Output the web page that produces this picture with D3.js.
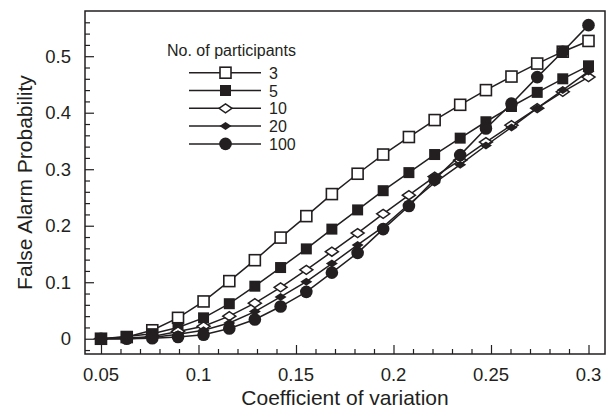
<!DOCTYPE html>
<html><head><meta charset="utf-8">
<script src="https://cdn.jsdelivr.net/npm/d3@7"></script>
<style>body{margin:0;background:#fff}svg{display:block}text{font-family:"Liberation Sans",Arial,sans-serif;fill:#231f20}</style>
</head><body><svg id="c" width="611" height="410"></svg>
<script>
const xValues = [0.05,0.0632,0.0763,0.0895,0.1026,0.1158,0.1289,0.1421,0.1553,0.1684,0.1816,0.1947,0.2079,0.2211,0.2342,0.2474,0.2605,0.2737,0.2868,0.3];
const s3   = [0,0.003,0.015,0.037,0.066,0.102,0.139,0.179,0.217,0.256,0.292,0.326,0.357,0.387,0.414,0.440,0.464,0.487,0.508,0.527];
const s5   = [0,0.004,0.009,0.020,0.037,0.062,0.093,0.126,0.159,0.194,0.228,0.262,0.294,0.326,0.355,0.384,0.411,0.436,0.460,0.483];
const s10  = [0,0.001,0.004,0.013,0.022,0.040,0.063,0.091,0.122,0.154,0.187,0.221,0.254,0.287,0.316,0.348,0.378,0.408,0.437,0.463];
const s20  = [0,0.000,0.002,0.008,0.015,0.028,0.048,0.074,0.101,0.133,0.166,0.198,0.238,0.276,0.308,0.342,0.374,0.408,0.440,0.473];
const s100 = [0,0.000,0.001,0.003,0.007,0.018,0.034,0.057,0.083,0.117,0.152,0.194,0.235,0.282,0.325,0.372,0.416,0.463,0.508,0.555];
const seriesNames = ["3","5","10","20","100"];
const seriesData = [s3,s5,s10,s20,s100];
const markers = ["squareOpen","squareFilled","diamondOpen","diamondFilled","circle"];
const xTicks = [0.05,0.1,0.15,0.2,0.25,0.3];
const xTickLabels = ["0.05","0.1","0.15","0.2","0.25","0.3"];
const yTicks = [0,0.1,0.2,0.3,0.4,0.5];
const yTickLabels = ["0","0.1","0.2","0.3","0.4","0.5"];

const svg = d3.select("#c");
const L=85,R=605,T=11,B=354;
const x = d3.scaleLinear().domain([0.0418,0.30846]).range([L,R]);
const y = d3.scaleLinear().domain([-0.027,0.58]).range([B,T]);
const ink="#231f20";

const xMinor = d3.range(5,31).map(d=>d/100).filter(d=>!xTicks.some(t=>Math.abs(t-d)<1e-9));
const yMinor = d3.range(-1,29).map(d=>d*0.02).filter(d=>!yTicks.some(t=>Math.abs(t-d)<1e-9));

const gx = svg.append("g").attr("transform",`translate(0,${B})`)
  .call(d3.axisTop(x).tickValues(xTicks).tickSize(9).tickFormat(""));
const gxm = svg.append("g").attr("transform",`translate(0,${B})`)
  .call(d3.axisTop(x).tickValues(xMinor).tickSize(5).tickFormat(""));
const gy = svg.append("g").attr("transform",`translate(${L},0)`)
  .call(d3.axisRight(y).tickValues(yTicks).tickSize(9).tickFormat(""));
const gym = svg.append("g").attr("transform",`translate(${L},0)`)
  .call(d3.axisRight(y).tickValues(yMinor).tickSize(5).tickFormat(""));
[gx,gxm,gy,gym].forEach(g=>{g.select(".domain").remove();g.selectAll("line").attr("stroke",ink).attr("stroke-width",1.2);});

svg.append("rect").attr("x",L).attr("y",T).attr("width",R-L).attr("height",B-T)
  .attr("fill","none").attr("stroke",ink).attr("stroke-width",1.5);

svg.append("g").selectAll("text").data(xTicks).join("text")
  .attr("x",d=>x(d)).attr("y",B+27).attr("text-anchor","middle").attr("font-size",18.5)
  .text((d,i)=>xTickLabels[i]);
svg.append("g").selectAll("text").data(yTicks).join("text")
  .attr("x",L-14).attr("y",d=>y(d)+6.5).attr("text-anchor","end").attr("font-size",18.5)
  .text((d,i)=>yTickLabels[i]);

svg.append("text").attr("x",(L+R)/2).attr("y",405).attr("text-anchor","middle").attr("font-size",21)
  .text("Coefficient of variation");
svg.append("text").attr("transform",`translate(32,${(T+B)/2}) rotate(-90)`).attr("text-anchor","middle").attr("font-size",21)
  .text("False Alarm Probability");

function drawMarker(g,type,cx,cy){
  if(type==="squareOpen") g.append("rect").attr("x",cx-5.5).attr("y",cy-5.5).attr("width",11).attr("height",11).attr("fill","#fff").attr("stroke",ink).attr("stroke-width",1.6);
  else if(type==="squareFilled") g.append("rect").attr("x",cx-5.5).attr("y",cy-5.5).attr("width",11).attr("height",11).attr("fill",ink);
  else if(type==="diamondOpen") g.append("path").attr("d",`M${cx-6.5},${cy}L${cx},${cy-4.5}L${cx+6.5},${cy}L${cx},${cy+4.5}Z`).attr("fill","#fff").attr("stroke",ink).attr("stroke-width",1.5);
  else if(type==="diamondFilled") g.append("path").attr("d",`M${cx-6},${cy}L${cx},${cy-4}L${cx+6},${cy}L${cx},${cy+4}Z`).attr("fill",ink);
  else g.append("circle").attr("cx",cx).attr("cy",cy).attr("r",6.3).attr("fill",ink);
}

const line = d3.line().x((d,i)=>x(xValues[i])).y(d=>y(d));
seriesData.forEach((s,k)=>{
  const g = svg.append("g");
  g.append("path").attr("d",line(s)).attr("fill","none").attr("stroke",ink).attr("stroke-width",1.5);
  s.forEach((v,i)=>drawMarker(g,markers[k],x(xValues[i]),y(v)));
});

const lg = svg.append("g");
lg.append("text").attr("x",167).attr("y",56).attr("font-size",16).text("No. of participants");
seriesNames.forEach((n,k)=>{
  const yy = 72.7 + k*17.8;
  lg.append("line").attr("x1",189).attr("x2",261).attr("y1",yy).attr("y2",yy).attr("stroke",ink).attr("stroke-width",1.5);
  drawMarker(lg,markers[k],225.5,yy);
  lg.append("text").attr("x",269).attr("y",yy+6).attr("font-size",16).text(n);
});
</script></body></html>
